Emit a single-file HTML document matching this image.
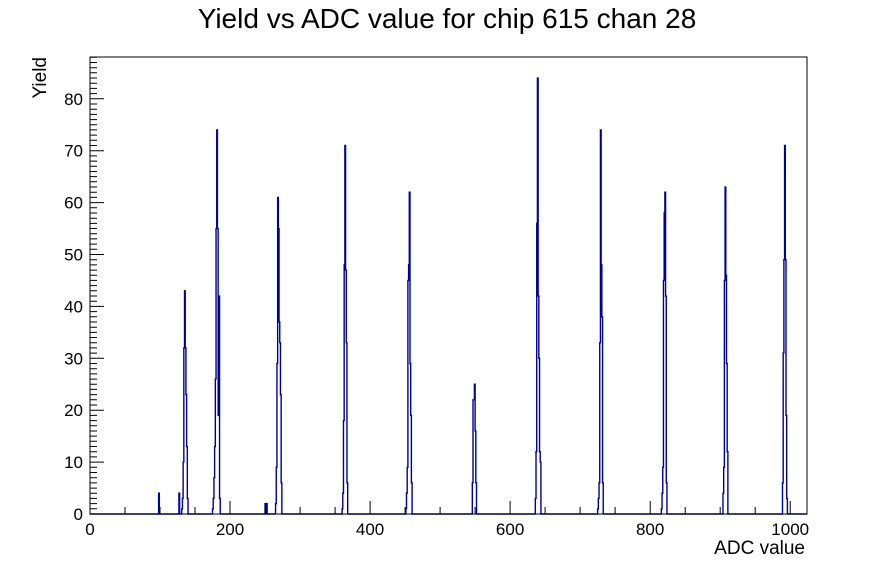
<!DOCTYPE html>
<html><head><meta charset="utf-8"><style>
html,body{margin:0;padding:0;background:#fff;}
svg{display:block;font-family:"Liberation Sans",Arial,sans-serif;}
</style></head><body>
<svg id="s" width="896" height="572" viewBox="0 0 896 572" xmlns="http://www.w3.org/2000/svg">
<rect width="896" height="572" fill="#fff"/>
<text x="447" y="28" font-size="28" text-anchor="middle">Yield vs ADC value for chip 615 chan 28</text>
<path id="h" fill="none" stroke="#000099" stroke-width="1.4"/>
<rect x="90" y="57" width="717" height="457" fill="none" stroke="#000" stroke-width="1"/>
<g id="ax" stroke="#000" stroke-width="1"></g>
<g font-size="17" text-anchor="end" id="yl"></g>
<g font-size="17" text-anchor="middle" id="xl"></g>
<text x="805" y="554" font-size="19" text-anchor="end">ADC value</text>
<text transform="translate(46,57) rotate(-90)" font-size="19" text-anchor="end">Yield</text>
</svg>
<script>
var NS="http://www.w3.org/2000/svg";
var X0=90,SX=717/1024,Y0=514,SY=5.19;
function X(a){return X0+a*SX;}function Y(v){return Y0-v*SY;}
var ax=document.getElementById('ax'),d="";
for(var v=0;v<=88;v++){var l=(v%10==0)?14:7;d+="M90 "+Y(v).toFixed(1)+"h"+l;}
for(var a=0;a<=1024;a+=10){var l=(a%200==0)?13:(a%50==0?7:0);if(l)d+="M"+X(a).toFixed(1)+" 514v-"+l;}
var p=document.createElementNS(NS,'path');p.setAttribute('d',d);ax.appendChild(p);
var yl=document.getElementById('yl');
for(var v=0;v<=80;v+=10){var t=document.createElementNS(NS,'text');t.setAttribute('x',83);t.setAttribute('y',Y(v)+6);t.textContent=v;yl.appendChild(t);}
var xl=document.getElementById('xl');
for(var a=0;a<=1000;a+=200){var t=document.createElementNS(NS,'text');t.setAttribute('x',X(a));t.setAttribute('y',535);t.textContent=a;xl.appendChild(t);}
var h=new Array(1024).fill(0);
var peaks=[[131,[1,3,10,32,43,32,23,13,3]],[175,[1,3,7,13,26,55,74,55,19,42,3]],[265,[2,9,29,61,55,37,33,23,6]],[360,[1,4,18,48,71,47,33,6]],[451,[1,4,9,45,48,62,29,19,6]],[546,[6,22,22,25,16,6]],[636,[3,12,56,84,42,30,12,10]],[725,[1,3,6,33,74,48,38,6]],[816,[1,4,9,45,58,62,42,6]],[904,[4,9,45,63,46,29,12]],[989,[6,31,49,71,49,19,3]]];
peaks.forEach(function(p){p[1].forEach(function(v,i){h[p[0]+i]=v;});});
[[98,4],[127,4],[250,2],[252,2],[455,1],[360,1],[823,1],[910,1]].forEach(function(q){h[q[0]]=Math.max(h[q[0]],q[1]);});
var s="M"+X(0)+" "+Y0;
for(var i=0;i<1024;i++){s+="V"+Y(h[i]).toFixed(2)+"H"+X(i+1).toFixed(2);}
s+="V"+Y0;
document.getElementById('h').setAttribute('d',s);
</script>
</body></html>
